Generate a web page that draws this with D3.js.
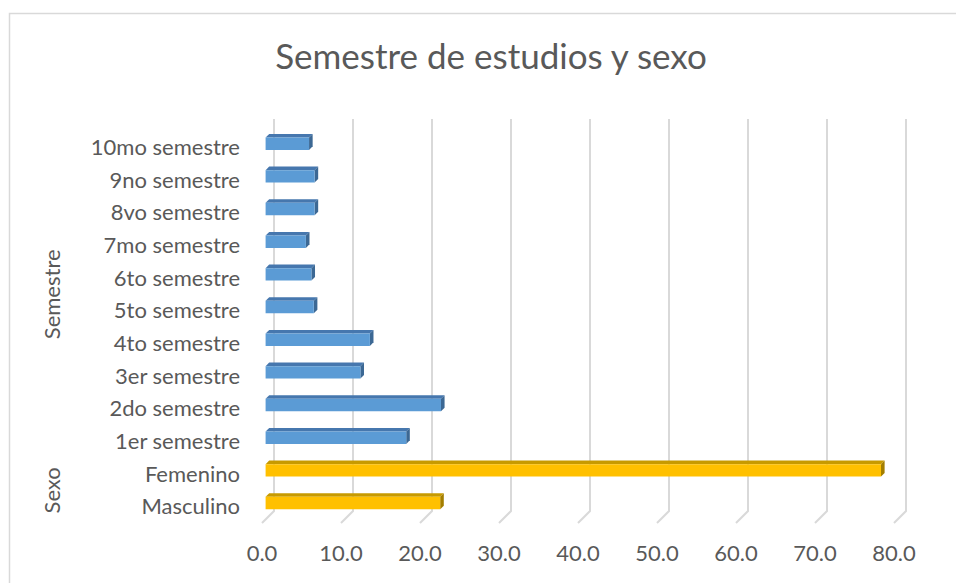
<!DOCTYPE html>
<html>
<head>
<meta charset="utf-8">
<script src="https://cdn.jsdelivr.net/npm/d3@7"></script>
<style>
  body { margin: 0; background: #fff; }
  svg { display: block; font-family: Lato, "Open Sans", sans-serif; }
</style>
</head>
<body>
<div id="chart"></div>
<script>
const width = 956;
const height = 583;

// Categories, bottom to top
const categories = ['Masculino', 'Femenino', '1er semestre', '2do semestre', '3er semestre',
  '4to semestre', '5to semestre', '6to semestre', '7mo semestre', '8vo semestre',
  '9no semestre', '10mo semestre'];
const values = [22.1, 77.9, 17.8, 22.2, 12.0, 13.2, 6.1, 5.8, 5.1, 6.2, 6.2, 5.5];
const groups = ['Sexo', 'Sexo', 'Semestre', 'Semestre', 'Semestre', 'Semestre', 'Semestre',
  'Semestre', 'Semestre', 'Semestre', 'Semestre', 'Semestre'];
const groupNames = ['Sexo', 'Semestre'];
const tickValues = [0, 10, 20, 30, 40, 50, 60, 70, 80];

// 3D depth (oblique offset) and bar depth range
const depth = 12;
const d0 = 0.3, d1 = 0.6;

// Colors per group: front, top, side
const palette = {
  Semestre: ['#5b9bd5', '#4677ae', '#3c6894'],
  Sexo: ['#ffc000', '#c79a00', '#a37e00']
};

const x = d3.scaleLinear().domain([0, 80]).range([262, 894]);
const y = d3.scaleBand().domain(categories).range([523, 131])
    .paddingInner(0.62).paddingOuter(0.31);

const svg = d3.select('#chart').append('svg')
    .attr('width', width)
    .attr('height', height);

// Chart frame (only left and top edges visible)
svg.append('path')
    .attr('d', `M9.5,${height} V13.5 H${width}`)
    .attr('fill', 'none')
    .attr('stroke', '#d9d9d9')
    .attr('stroke-width', 1.5);

// Title
svg.append('text')
    .attr('x', 491)
    .attr('y', 69)
    .attr('text-anchor', 'middle')
    .attr('font-size', 35)
    .attr('fill', '#595959')
    .text('Semestre de estudios y sexo');

// Back wall gridlines and floor ticks
const grid = svg.append('g')
    .attr('stroke', '#d9d9d9')
    .attr('stroke-width', 2)
    .attr('fill', 'none');

grid.selectAll('.grid')
    .data(tickValues)
    .enter().append('path')
    .attr('class', 'grid')
    .attr('d', v => `M${x(v) + depth},${y.range()[1] - depth} V${y.range()[0] - depth} L${x(v)},${y.range()[0]}`);

// Tick labels
svg.selectAll('.tick-label')
    .data(tickValues)
    .enter().append('text')
    .attr('class', 'tick-label')
    .attr('x', v => x(v))
    .attr('y', 561)
    .attr('text-anchor', 'middle')
    .attr('font-size', 22)
    .attr('fill', '#595959')
    .text(v => v.toFixed(1));

// Bars
const rows = categories.map((c, i) => ({ cat: c, value: values[i], group: groups[i] }));

const bars = svg.selectAll('.bar')
    .data(rows)
    .enter().append('g')
    .attr('class', 'bar');

function pt(v, yy, d) {
  return [x(v) + depth * d, yy - depth * d];
}

function poly(points) {
  return 'M' + points.map(p => p.join(',')).join('L') + 'Z';
}

// top face
bars.append('path')
    .attr('d', d => {
      const t = y(d.cat);
      return poly([pt(0, t, d0), pt(d.value, t, d0), pt(d.value, t, d1), pt(0, t, d1)]);
    })
    .attr('fill', d => palette[d.group][1]);

// right side face
bars.append('path')
    .attr('d', d => {
      const t = y(d.cat), b = y(d.cat) + y.bandwidth();
      return poly([pt(d.value, t, d0), pt(d.value, t, d1), pt(d.value, b, d1), pt(d.value, b, d0)]);
    })
    .attr('fill', d => palette[d.group][2]);

// front face
bars.append('path')
    .attr('d', d => {
      const t = y(d.cat), b = y(d.cat) + y.bandwidth();
      return poly([pt(0, t, d0), pt(d.value, t, d0), pt(d.value, b, d0), pt(0, b, d0)]);
    })
    .attr('fill', d => palette[d.group][0]);

// Category labels
svg.selectAll('.cat-label')
    .data(categories)
    .enter().append('text')
    .attr('class', 'cat-label')
    .attr('x', 240)
    .attr('y', c => y(c) + y.bandwidth() / 2)
    .attr('dy', '0.35em')
    .attr('text-anchor', 'end')
    .attr('font-size', 22)
    .attr('fill', '#595959')
    .text(c => c);

// Group labels (rotated)
svg.selectAll('.group-label')
    .data(groupNames)
    .enter().append('text')
    .attr('class', 'group-label')
    .attr('transform', g => {
      const cats = categories.filter((c, i) => groups[i] === g);
      const cy = d3.mean(cats, c => y(c) + y.bandwidth() / 2);
      return `translate(60,${cy}) rotate(-90)`;
    })
    .attr('text-anchor', 'middle')
    .attr('font-size', 22)
    .attr('fill', '#595959')
    .text(g => g);
</script>
</body>
</html>
